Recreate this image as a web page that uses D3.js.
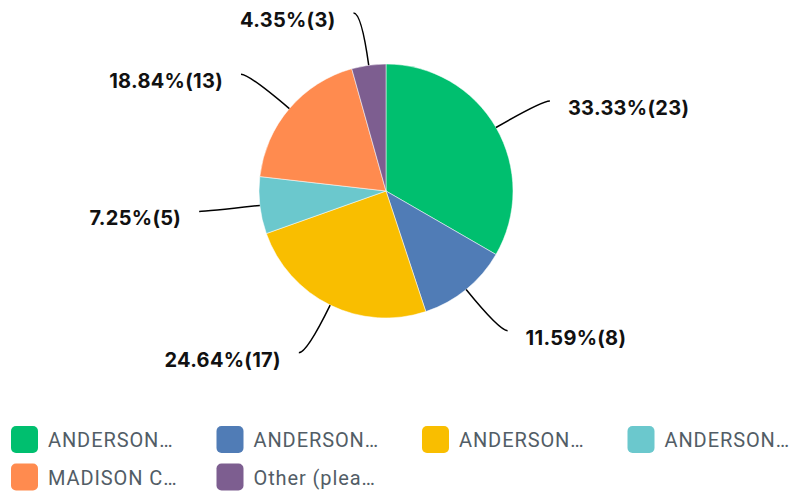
<!DOCTYPE html>
<html>
<head>
<meta charset="utf-8">
<script src="https://cdn.jsdelivr.net/npm/d3@7"></script>
<style>
  body { margin: 0; background: #fff; }
  svg { display: block; }
</style>
</head>
<body>
<div id="chart"></div>
<script>
const categories = ['ANDERSON…', 'ANDERSON…', 'ANDERSON…', 'ANDERSON…', 'MADISON C…', 'Other (plea…'];
const counts = [23, 8, 17, 5, 13, 3];
const percents = ['33.33%', '11.59%', '24.64%', '7.25%', '18.84%', '4.35%'];
const colors = ['#00bf6f', '#507cb6', '#f9be00', '#6bc8cd', '#ff8b4f', '#7d5e90'];

document.addEventListener('DOMContentLoaded', function () {
    const width = 797, height = 494;
    const cx = 386, cy = 191, radius = 127, labelRadius = 180;

    const svg = d3.select('#chart')
        .append('svg')
        .attr('width', width)
        .attr('height', height);

    const data = counts.map((c, i) => ({ name: categories[i], count: c, pct: percents[i], color: colors[i] }));

    const pie = d3.pie().sort(null).value((d) => d.count);
    const arc = d3.arc().innerRadius(0).outerRadius(radius);
    const arcs = pie(data);

    const g = svg.append('g').attr('transform', `translate(${cx},${cy})`);

    g.selectAll('path.slice')
        .data(arcs)
        .enter()
        .append('path')
        .attr('class', 'slice')
        .attr('d', arc)
        .attr('fill', (d) => d.data.color)
        .attr('stroke', '#fff')
        .attr('stroke-width', 0.5);

    // leader lines: radial at the pie edge, bending to horizontal at the label end
    arcs.forEach((d) => {
        const a = (d.startAngle + d.endAngle) / 2;
        const ux = Math.sin(a), uy = -Math.cos(a);
        const sx = radius * ux, sy = radius * uy;
        const right = ux >= 0;
        const dir = right ? 1 : -1;
        const kx = labelRadius * ux;
        const ky = Math.max(labelRadius * uy, 13 - cy);
        const ex = kx + dir * 8, ey = ky;
        g.append('path')
            .attr('d', `M${sx},${sy}Q${kx},${ky} ${ex},${ey}`)
            .attr('fill', 'none')
            .attr('stroke', '#000')
            .attr('stroke-width', 1.5);
        g.append('text')
            .attr('x', ex + dir * 18)
            .attr('y', ey + 7)
            .attr('dominant-baseline', 'central')
            .attr('text-anchor', right ? 'start' : 'end')
            .style('font-family', 'Inter, Roboto, sans-serif')
            .style('font-weight', 700)
            .style('font-size', '20px')
            .style('letter-spacing', '0.3px')
            .style('fill', '#111')
            .text(`${d.data.pct}(${d.data.count})`);
    });

    // legend, four per row
    const legend = svg.append('g');
    const item = legend.selectAll('g.item')
        .data(data)
        .enter()
        .append('g')
        .attr('class', 'item')
        .attr('transform', (d, i) => `translate(${11 + (i % 4) * 205.5},${426 + Math.floor(i / 4) * 37.5})`);

    item.append('rect')
        .attr('width', 27)
        .attr('height', 27)
        .attr('rx', 5)
        .attr('fill', (d) => d.color);

    item.append('text')
        .attr('x', 37)
        .attr('y', 14)
        .attr('dominant-baseline', 'central')
        .style('font-family', 'Roboto, sans-serif')
        .style('font-size', '20px')
        .style('letter-spacing', '0.9px')
        .style('fill', '#525d66')
        .text((d) => d.name);
});
</script>
</body>
</html>
